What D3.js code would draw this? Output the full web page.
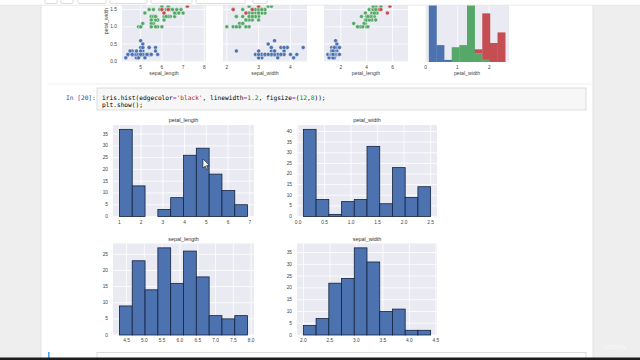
<!DOCTYPE html>
<html><head><meta charset="utf-8">
<script src="https://cdn.jsdelivr.net/npm/d3@7"></script>
<style>
html,body{margin:0;padding:0;background:#eeeeee;}
svg{display:block;}
</style></head>
<body>
<svg id="chart" width="640" height="360"></svg>
<script>
// ---------------- DATA ----------------
// Iris data set (rows 1-50 setosa, 51-100 versicolor, 101-150 virginica)
const sepalLength = [5.1,4.9,4.7,4.6,5.0,5.4,4.6,5.0,4.4,4.9,5.4,4.8,4.8,4.3,5.8,5.7,5.4,5.1,5.7,5.1,5.4,5.1,4.6,5.1,4.8,5.0,5.0,5.2,5.2,4.7,4.8,5.4,5.2,5.5,4.9,5.0,5.5,4.9,4.4,5.1,5.0,4.5,4.4,5.0,5.1,4.8,5.1,4.6,5.3,5.0,
7.0,6.4,6.9,5.5,6.5,5.7,6.3,4.9,6.6,5.2,5.0,5.9,6.0,6.1,5.6,6.7,5.6,5.8,6.2,5.6,5.9,6.1,6.3,6.1,6.4,6.6,6.8,6.7,6.0,5.7,5.5,5.5,5.8,6.0,5.4,6.0,6.7,6.3,5.6,5.5,5.5,6.1,5.8,5.0,5.6,5.7,5.7,6.2,5.1,5.7,
6.3,5.8,7.1,6.3,6.5,7.6,4.9,7.3,6.7,7.2,6.5,6.4,6.8,5.7,5.8,6.4,6.5,7.7,7.7,6.0,6.9,5.6,7.7,6.3,6.7,7.2,6.2,6.1,6.4,7.2,7.4,7.9,6.4,6.3,6.1,7.7,6.3,6.4,6.0,6.9,6.7,6.9,5.8,6.8,6.7,6.7,6.3,6.5,6.2,5.9];
const sepalWidth = [3.5,3.0,3.2,3.1,3.6,3.9,3.4,3.4,2.9,3.1,3.7,3.4,3.0,3.0,4.0,4.4,3.9,3.5,3.8,3.8,3.4,3.7,3.6,3.3,3.4,3.0,3.4,3.5,3.4,3.2,3.1,3.4,4.1,4.2,3.1,3.2,3.5,3.6,3.0,3.4,3.5,2.3,3.2,3.5,3.8,3.0,3.8,3.2,3.7,3.3,
3.2,3.2,3.1,2.3,2.8,2.8,3.3,2.4,2.9,2.7,2.0,3.0,2.2,2.9,2.9,3.1,3.0,2.7,2.2,2.5,3.2,2.8,2.5,2.8,2.9,3.0,2.8,3.0,2.9,2.6,2.4,2.4,2.7,2.7,3.0,3.4,3.1,2.3,3.0,2.5,2.6,3.0,2.6,2.3,2.7,3.0,2.9,2.9,2.5,2.8,
3.3,2.7,3.0,2.9,3.0,3.0,2.5,2.9,2.5,3.6,3.2,2.7,3.0,2.5,2.8,3.2,3.0,3.8,2.6,2.2,3.2,2.8,2.8,2.7,3.3,3.2,2.8,3.0,2.8,3.0,2.8,3.8,2.8,2.8,2.6,3.0,3.4,3.1,3.0,3.1,3.1,3.1,2.7,3.2,3.3,3.0,2.5,3.0,3.4,3.0];
const petalLength = [1.4,1.4,1.3,1.5,1.4,1.7,1.4,1.5,1.4,1.5,1.5,1.6,1.4,1.1,1.2,1.5,1.3,1.4,1.7,1.5,1.7,1.5,1.0,1.7,1.9,1.6,1.6,1.5,1.4,1.6,1.6,1.5,1.5,1.4,1.5,1.2,1.3,1.4,1.3,1.5,1.3,1.3,1.3,1.6,1.9,1.4,1.6,1.4,1.5,1.4,
4.7,4.5,4.9,4.0,4.6,4.5,4.7,3.3,4.6,3.9,3.5,4.2,4.0,4.7,3.6,4.4,4.5,4.1,4.5,3.9,4.8,4.0,4.9,4.7,4.3,4.4,4.8,5.0,4.5,3.5,3.8,3.7,3.9,5.1,4.5,4.5,4.7,4.4,4.1,4.0,4.4,4.6,4.0,3.3,4.2,4.2,4.2,4.3,3.0,4.1,
6.0,5.1,5.9,5.6,5.8,6.6,4.5,6.3,5.8,6.1,5.1,5.3,5.5,5.0,5.1,5.3,5.5,6.7,6.9,5.0,5.7,4.9,6.7,4.9,5.7,6.0,4.8,4.9,5.6,5.8,6.1,6.4,5.6,5.1,5.6,6.1,5.6,5.5,4.8,5.4,5.6,5.1,5.1,5.9,5.7,5.2,5.0,5.2,5.4,5.1];
const petalWidth = [0.2,0.2,0.2,0.2,0.2,0.4,0.3,0.2,0.2,0.1,0.2,0.2,0.1,0.1,0.2,0.4,0.4,0.3,0.3,0.3,0.2,0.4,0.2,0.5,0.2,0.2,0.4,0.2,0.2,0.2,0.2,0.4,0.1,0.2,0.2,0.2,0.2,0.1,0.2,0.2,0.3,0.3,0.2,0.6,0.4,0.3,0.2,0.2,0.2,0.2,
1.4,1.5,1.5,1.3,1.5,1.3,1.6,1.0,1.3,1.4,1.0,1.5,1.0,1.4,1.3,1.4,1.5,1.0,1.5,1.1,1.8,1.3,1.5,1.2,1.3,1.4,1.4,1.7,1.5,1.0,1.1,1.0,1.2,1.6,1.5,1.6,1.5,1.3,1.3,1.3,1.2,1.4,1.2,1.0,1.3,1.2,1.3,1.3,1.1,1.3,
2.5,1.9,2.1,1.8,2.2,2.1,1.7,1.8,1.8,2.5,2.0,1.9,2.1,2.0,2.4,2.3,1.8,2.2,2.3,1.5,2.3,2.0,2.0,1.8,2.1,1.8,1.8,1.8,2.1,1.6,1.9,2.0,2.2,1.5,1.4,2.3,2.4,1.8,1.8,2.1,2.4,2.3,1.9,2.3,2.5,2.3,1.9,2.0,2.3,1.8];
const speciesNames = ["setosa","versicolor","virginica"];
const speciesSize = [50, 50, 50];

// stacked petal_width histogram (pairplot diagonal), per species
const pwStackSetosa     = [41, 8, 1, 0, 0, 0, 0, 0, 0, 0];
const pwStackVersicolor = [ 0, 0, 0, 7, 8,30, 4, 1, 0, 0];
const pwStackVirginica  = [ 0, 0, 0, 0, 0, 3, 2,22, 9,14];
const pwRange = [0.1, 2.5];

// iris.hist() counts, 10 bins each
const histTitles = ["petal_length","petal_width","sepal_length","sepal_width"];
const petalLengthCounts = [37,13,0,3,8,26,29,18,11,5];
const petalWidthCounts  = [41,8,1,7,8,33,6,23,9,14];
const sepalLengthCounts = [9,23,14,27,16,26,18,6,5,6];
const sepalWidthCounts  = [4,7,22,24,37,31,10,11,2,2];
const petalLengthRange = [1.0, 6.9];
const petalWidthRange  = [0.1, 2.5];
const sepalLengthRange = [4.3, 7.9];
const sepalWidthRange  = [2.0, 4.4];

// tick labels
const petalLengthXTicks = [1,2,3,4,5,6,7];
const petalWidthXTicks  = [0.0,0.5,1.0,1.5,2.0,2.5];
const sepalLengthXTicks = [4.5,5.0,5.5,6.0,6.5,7.0,7.5,8.0];
const sepalWidthXTicks  = [2.0,2.5,3.0,3.5,4.0,4.5];
const petalLengthYTicks = [0,5,10,15,20,25,30,35];
const petalWidthYTicks  = [0,5,10,15,20,25,30,35,40];
const sepalLengthYTicks = [0,5,10,15,20,25];
const sepalWidthYTicks  = [0,5,10,15,20,25,30,35];

const pairXVars = ["sepal_length","sepal_width","petal_length","petal_width"];
const pairXTicks = [[5,6,7,8],[2,3,4],[2,4,6],[0,1,2]];
const pairYTicks = [0.0,0.5,1.0,1.5,2.0,2.5];

const codeLine1 = [["iris.hist(edgecolor","#000"],["=","#AA22FF"],["'black'","#BA2121"],[", linewidth","#000"],["=","#AA22FF"],["1.2","#008800"],[", figsize","#000"],["=","#AA22FF"],["(","#000"],["12","#008800"],[",","#000"],["8","#008800"],["));","#000"]];
const codeLine2 = [["plt.show();","#000"]];

// ---------------- STYLE ----------------
const BG = "#EAEAF2";
const C_BLUE = "#4C72B0", C_GREEN = "#55A868", C_RED = "#C44E52";
const speciesColors = [C_BLUE, C_GREEN, C_RED];
const FONT = "'Liberation Sans', Arial, sans-serif";
const MONO = "'DejaVu Sans Mono', monospace";

const svg = d3.select("#chart");

// page background
svg.append("rect").attr("x",0).attr("y",0).attr("width",640).attr("height",360).attr("fill","#eeeeee");
svg.append("rect").attr("x",41).attr("y",0).attr("width",552).attr("height",360).attr("fill","#ffffff");
svg.append("line").attr("x1",41).attr("x2",41).attr("y1",0).attr("y2",360).attr("stroke","#e2e2e2");
svg.append("line").attr("x1",593).attr("x2",593).attr("y1",0).attr("y2",360).attr("stroke","#e2e2e2");

// ---------------- PAIRPLOT BOTTOM ROW ----------------
const pairTop = -29, pairBottom = 62;
const pairBoxes = [[122,206],[223,307],[324,408],[425,509]];
const pairData = [sepalLength, sepalWidth, petalLength, petalWidth];
const speciesIdx = [];
speciesSize.forEach((n,k)=>{ for(let i=0;i<n;i++) speciesIdx.push(k); });

const gPair = svg.append("g");
const yPair = d3.scaleLinear().domain([-0.02, 2.62]).range([pairBottom, pairTop]);

pairBoxes.forEach((b,ci)=>{
  const vals = pairData[ci];
  const mn = d3.min(vals), mx = d3.max(vals), sp = mx-mn;
  const x = d3.scaleLinear().domain([mn-0.05*sp, mx+0.05*sp]).range([b[0], b[1]]);
  const g = gPair.append("g");
  g.append("rect").attr("x",b[0]).attr("y",pairTop).attr("width",b[1]-b[0]).attr("height",pairBottom-pairTop).attr("fill",BG);
  g.selectAll("line.vx").data(pairXTicks[ci]).join("line")
    .attr("x1",d=>x(d)).attr("x2",d=>x(d)).attr("y1",pairTop).attr("y2",pairBottom)
    .attr("stroke","#fff").attr("stroke-width",0.8);
  g.selectAll("text.xt").data(pairXTicks[ci]).join("text")
    .attr("x",d=>x(d)).attr("y",67).attr("text-anchor","middle").attr("dominant-baseline","central")
    .attr("font-family",FONT).attr("font-size",4.8).attr("fill","#444").text(d=>d);
  g.append("text").attr("x",(b[0]+b[1])/2).attr("y",73).attr("text-anchor","middle").attr("dominant-baseline","central")
    .attr("font-family",FONT).attr("font-size",5.2).attr("fill","#444").text(pairXVars[ci]);
  if(ci<3){
    g.selectAll("line.hy").data(pairYTicks).join("line")
      .attr("x1",b[0]).attr("x2",b[1]).attr("y1",d=>yPair(d)).attr("y2",d=>yPair(d))
      .attr("stroke","#fff").attr("stroke-width",0.8);
    const pts = petalWidth.map((v,i)=>({x:vals[i], y:v, s:speciesIdx[i]}));
    g.selectAll("circle").data(pts).join("circle")
      .attr("cx",d=>x(d.x)).attr("cy",d=>yPair(d.y)).attr("r",2)
      .attr("fill",d=>speciesColors[d.s]).attr("stroke","#fff").attr("stroke-width",0.4);
  } else {
    // stacked histogram on diagonal
    const edges = d3.range(11).map(i=>pwRange[0]+i*(pwRange[1]-pwRange[0])/10);
    const stacks = [pwStackSetosa, pwStackVersicolor, pwStackVirginica];
    const totals = edges.slice(0,10).map((e,i)=>stacks.reduce((a,s)=>a+s[i],0));
    const yH = d3.scaleLinear().domain([0, d3.max(totals)*1.05]).range([pairBottom, pairTop]);
    const rows = [];
    edges.slice(0,10).forEach((e,i)=>{
      let base=0;
      stacks.forEach((s,k)=>{ if(s[i]>0){ rows.push({x0:e,x1:edges[i+1],b:base,t:base+s[i],k}); } base+=s[i]; });
    });
    g.selectAll("rect.bar").data(rows).join("rect")
      .attr("x",d=>x(d.x0)).attr("width",d=>x(d.x1)-x(d.x0)+0.3)
      .attr("y",d=>yH(d.t)).attr("height",d=>yH(d.b)-yH(d.t))
      .attr("fill",d=>speciesColors[d.k]);
  }
  if(ci===0){
    // only the tick labels below the notebook toolbar are visible
    g.selectAll("text.yt").data(pairYTicks.filter(d=>yPair(d)>8)).join("text")
      .attr("x",117).attr("y",d=>yPair(d)).attr("text-anchor","end").attr("dominant-baseline","central")
      .attr("font-family",FONT).attr("font-size",4.8).attr("fill","#444").text(d=>d.toFixed(1));
    g.append("text").attr("transform","translate(106,21) rotate(-90)").attr("text-anchor","middle")
      .attr("dominant-baseline","central").attr("font-family",FONT).attr("font-size",5.2).attr("fill","#444").text("petal_width");
  }
});

// top toolbar overlay
svg.append("rect").attr("x",0).attr("y",0).attr("width",640).attr("height",5).attr("fill","#ffffff");
svg.append("line").attr("x1",0).attr("x2",640).attr("y1",5.2).attr("y2",5.2).attr("stroke","#e6e6e6").attr("stroke-width",0.8);
const toolbarBtns = [[45,57],[61,73],[78,106],[110,147],[151,192],[196,245],[253,267]];
svg.selectAll("rect.btn").data(toolbarBtns).join("rect")
  .attr("x",d=>d[0]).attr("y",-3).attr("width",d=>d[1]-d[0]).attr("height",6.5).attr("rx",1)
  .attr("fill","#fff").attr("stroke","#cfcfcf").attr("stroke-width",0.7);

// ---------------- CODE CELL ----------------
svg.append("line").attr("x1",48).attr("x2",593).attr("y1",84).attr("y2",84).attr("stroke","#eeeeee");
svg.append("text").attr("x",66).attr("y",97).attr("dominant-baseline","central")
  .attr("font-family",MONO).attr("font-size",6.2).attr("fill","#303F9F").text("In [20]:");
svg.append("rect").attr("x",97).attr("y",88).attr("width",489).attr("height",22)
  .attr("fill","#f7f7f7").attr("stroke","#cfcfcf").attr("stroke-width",0.7);
function codeLine(parts, y){
  const t = svg.append("text").attr("x",102).attr("y",y).attr("dominant-baseline","central")
    .attr("font-family",MONO).attr("font-size",6.2).attr("xml:space","preserve");
  parts.forEach(p=>t.append("tspan").attr("fill",p[1]).text(p[0]));
}
codeLine(codeLine1, 97);
codeLine(codeLine2, 104);

// ---------------- iris.hist() GRID ----------------
const histCfg = [
  {title:histTitles[0], counts:petalLengthCounts, range:petalLengthRange, xt:petalLengthXTicks, yt:petalLengthYTicks, fmt:d=>String(d), box:[113,254,125,216.5]},
  {title:histTitles[1], counts:petalWidthCounts,  range:petalWidthRange,  xt:petalWidthXTicks,  yt:petalWidthYTicks,  fmt:d=>d.toFixed(1), box:[297,437,125,216.5]},
  {title:histTitles[2], counts:sepalLengthCounts, range:sepalLengthRange, xt:sepalLengthXTicks, yt:sepalLengthYTicks, fmt:d=>d.toFixed(1), box:[113,254,243.5,335]},
  {title:histTitles[3], counts:sepalWidthCounts,  range:sepalWidthRange,  xt:sepalWidthXTicks,  yt:sepalWidthYTicks,  fmt:d=>d.toFixed(1), box:[297,437,243.5,335]}
];
histCfg.forEach(c=>{
  const [x0,x1,y0,y1] = c.box;
  const sp = c.range[1]-c.range[0];
  const x = d3.scaleLinear().domain([c.range[0]-0.05*sp, c.range[1]+0.05*sp]).range([x0,x1]);
  const y = d3.scaleLinear().domain([0, d3.max(c.counts)*1.05]).range([y1,y0]);
  const edges = d3.range(11).map(i=>c.range[0]+i*sp/10);
  const g = svg.append("g");
  g.append("rect").attr("x",x0).attr("y",y0).attr("width",x1-x0).attr("height",y1-y0).attr("fill",BG);
  g.selectAll("line.gx").data(c.xt).join("line").attr("x1",d=>x(d)).attr("x2",d=>x(d)).attr("y1",y0).attr("y2",y1)
    .attr("stroke","#fff").attr("stroke-width",0.8);
  g.selectAll("line.gy").data(c.yt).join("line").attr("x1",x0).attr("x2",x1).attr("y1",d=>y(d)).attr("y2",d=>y(d))
    .attr("stroke","#fff").attr("stroke-width",0.8);
  const bars = c.counts.map((v,i)=>({a:edges[i], b:edges[i+1], v}));
  g.selectAll("rect.bar").data(bars).join("rect")
    .attr("x",d=>x(d.a)).attr("width",d=>x(d.b)-x(d.a))
    .attr("y",d=>y(d.v)).attr("height",d=>y(0)-y(d.v))
    .attr("fill",C_BLUE).attr("stroke","#14233f").attr("stroke-width",0.8);
  g.selectAll("text.xt").data(c.xt).join("text").attr("x",d=>x(d)).attr("y",y1+5.5)
    .attr("text-anchor","middle").attr("dominant-baseline","central")
    .attr("font-family",FONT).attr("font-size",4.8).attr("fill","#444").text(c.fmt);
  g.selectAll("text.yt").data(c.yt).join("text").attr("x",x0-5).attr("y",d=>y(d))
    .attr("text-anchor","end").attr("dominant-baseline","central")
    .attr("font-family",FONT).attr("font-size",4.8).attr("fill","#444").text(d=>d);
  g.append("text").attr("x",(x0+x1)/2).attr("y",y0-5).attr("text-anchor","middle").attr("dominant-baseline","central")
    .attr("font-family",FONT).attr("font-size",5.4).attr("fill","#333").text(c.title);
});

// mouse cursor
svg.append("path").attr("d","M203,159 L203,168 L205.2,166 L206.8,169.5 L208,169 L206.5,165.6 L209.3,165.5 Z")
  .attr("fill","#fff").attr("stroke","#000").attr("stroke-width",0.5);

// ---------------- BOTTOM ----------------
svg.append("rect").attr("x",97).attr("y",352.5).attr("width",489).attr("height",10).attr("fill","#fff").attr("stroke","#cfcfcf").attr("stroke-width",0.7);
svg.append("rect").attr("x",48).attr("y",352).attr("width",1.6).attr("height",8).attr("fill","#42A5F5");
svg.append("rect").attr("x",0).attr("y",357.5).attr("width",640).attr("height",3).attr("fill","#1c1c1c");
svg.append("text").attr("x",604).attr("y",349).attr("font-family",FONT).attr("font-size",7).attr("fill","#f7f7f7").text("Udemy");
</script>
</body></html>
